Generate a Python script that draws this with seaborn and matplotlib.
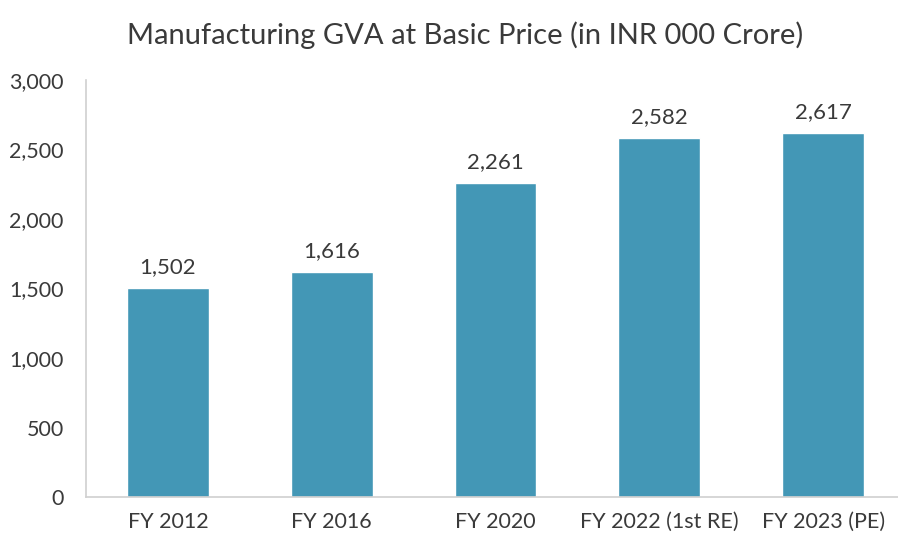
import pandas as pd
import matplotlib
matplotlib.use('Agg')
import matplotlib.pyplot as plt
import seaborn as sns

years = ['FY 2012', 'FY 2016', 'FY 2020', 'FY 2022 (1st RE)', 'FY 2023 (PE)']
gva = [1502, 1616, 2261, 2582, 2617]

sns.set_style('white')
plt.rcParams['font.family'] = ['Lato', 'DejaVu Sans']
text_col = '#3a3a3a'
bar_col = '#4397B6'

df = pd.DataFrame({'Year': years, 'GVA': gva})

fig = plt.figure(figsize=(8.98, 5.38), dpi=100)
ax = fig.add_axes([86 / 898, 41 / 538, 1 - 86 / 898, 417 / 538])
sns.barplot(data=df, x='Year', y='GVA', color=bar_col, width=0.5, saturation=1, ax=ax)

ax.set_xlim(-0.5, 4.457)
ax.set_ylim(0, 3000)
ax.set_yticks(range(0, 3001, 500))
ax.set_yticklabels(['{:,}'.format(v) for v in range(0, 3001, 500)])
ax.set_xlabel('')
ax.set_ylabel('')
ax.tick_params(axis='y', length=0, labelsize=15.5, colors=text_col, pad=16)
ax.tick_params(axis='x', length=0, labelsize=15.5, colors=text_col, pad=11)

for side in ['top', 'right']:
    ax.spines[side].set_visible(False)
for side in ['left', 'bottom']:
    ax.spines[side].set_color('#d0d0d0')
    ax.spines[side].set_linewidth(1.2)

for i, v in enumerate(gva):
    ax.text(i, v + 80, '{:,}'.format(v), ha='center', va='bottom', fontsize=16, color=text_col)

fig.text(465 / 898, 1 - 35 / 538, 'Manufacturing GVA at Basic Price (in INR 000 Crore)',
         ha='center', va='center', fontsize=21, color=text_col)

fig.savefig('out.png', dpi=100)
